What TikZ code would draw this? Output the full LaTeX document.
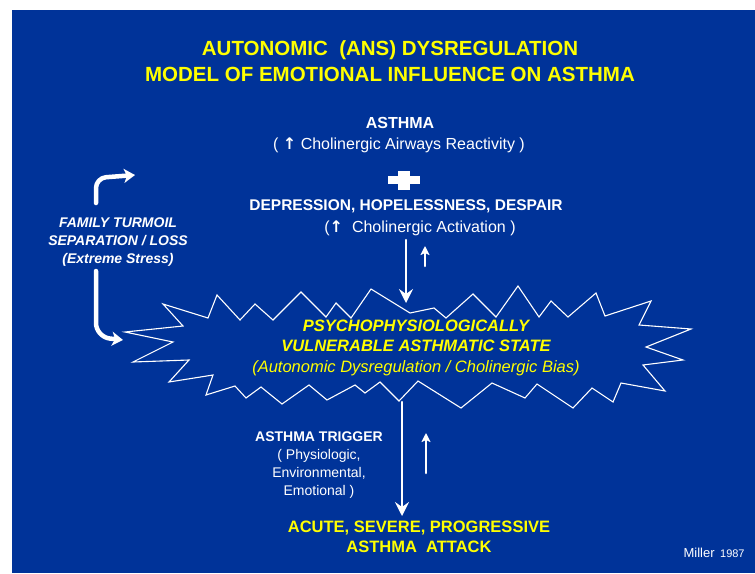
\documentclass[tikz,border=0pt]{standalone}
\usepackage{fontspec}
\setmainfont{Liberation Sans}
\newfontfamily\arrowfont{DejaVu Sans}
\usetikzlibrary{arrows.meta}

\definecolor{slideblue}{RGB}{0,51,153}
\definecolor{slideyellow}{RGB}{255,255,0}
\newcommand{\upsym}{{\arrowfont\bfseries ↑}}

\begin{document}
\begin{tikzpicture}[x=1pt, y=-1pt, line cap=round, line join=round,
    title/.style={text=slideyellow, font=\bfseries\fontsize{20.5}{26}\selectfont, align=center},
    heading/.style={text=white, font=\bfseries\fontsize{15.5}{19}\selectfont},
    note/.style={text=white, font=\fontsize{16}{19}\selectfont},
    sidetext/.style={text=white, font=\bfseries\itshape\fontsize{14}{18}\selectfont, align=center},
    statetext/.style={text=slideyellow, font=\bfseries\itshape\fontsize{16.5}{20.5}\selectfont, align=center},
    trigger/.style={text=white, font=\fontsize{14}{18}\selectfont, align=center},
    bigarrow/.style={white, line width=2.5pt, -{Stealth[length=14pt, width=14pt, inset=5pt]}},
    smallarrow/.style={white, line width=2.5pt, -{Stealth[length=9pt, width=9pt, inset=2pt]}},
    fatarrow/.style={white, line width=4.5pt, rounded corners=10pt, -{Stealth[length=11pt, width=14pt, inset=3pt]}},
    burst/.style={white, line width=1.1pt, line join=miter}]

    \useasboundingbox (0,0) rectangle (755,573);
    \fill[slideblue] (12,10) rectangle (755,573);

    % Title (base = last line)
    \node[title, anchor=base] (title) at (390,81) {AUTONOMIC\ \ (ANS) DYSREGULATION\\MODEL OF EMOTIONAL INFLUENCE ON ASTHMA};

    % Upper block
    \node[heading, anchor=base, font=\bfseries\fontsize{16}{19}\selectfont] (asthma) at (400,128) {ASTHMA};
    \node[note, anchor=base] (asthmanote) at (399,149) {( \upsym\ Cholinergic Airways Reactivity )};
    \fill[white] (388,175.5) rectangle (420,184);
    \fill[white] (398,170.5) rectangle (410,189.5);
    \node[heading, anchor=base] (depression) at (406,210.5) {DEPRESSION, HOPELESSNESS, DESPAIR};
    \node[note, anchor=base] (depnote) at (420,232) {(\upsym\ \ Cholinergic Activation )};

    % Left side
    \node[sidetext, anchor=base] (family) at (118,263) {FAMILY TURMOIL\\SEPARATION / LOSS\\(Extreme Stress)};

    % Vulnerable state
    \draw[burst] (125,332) -- (183,326) -- (163,304) -- (208,318) -- (217,295) -- (240,320)
        -- (255,304) -- (273,320) -- (301,292) -- (326,317) -- (336,303) -- (351,318)
        -- (371,289) -- (410,313) -- (434,308) -- (446,318) -- (473,294) -- (496,317)
        -- (518,286) -- (539,317) -- (551,301) -- (568,317) -- (596,293) -- (605,316)
        -- (651,301) -- (639,325) -- (691,329) -- (646,347) -- (683,360) -- (643,365)
        -- (665,391) -- (621,383) -- (613,402) -- (592,388) -- (573,408) -- (537,384)
        -- (525,398) -- (492,383) -- (461,408) -- (418,381) -- (399,401) -- (380,382)
        -- (365,393) -- (355,385) -- (327,400) -- (309,385) -- (282,404) -- (261,387)
        -- (246,398) -- (235,386) -- (206,395) -- (213,375) -- (169,382) -- (189,360)
        -- (133,362) -- (173,342) -- cycle;
    \node[statetext, anchor=base] (state) at (416,372) {PSYCHOPHYSIOLOGICALLY\\VULNERABLE ASTHMATIC STATE\\\mdseries (Autonomic Dysregulation / Cholinergic Bias)};

    % Lower block
    \node[trigger, anchor=base] (trigger) at (319,495) {\bfseries ASTHMA TRIGGER\\( Physiologic,\\Environmental,\\Emotional )};
    \node[title, anchor=base, font=\bfseries\fontsize{16.5}{20}\selectfont] (attack) at (419,552.5) {ACUTE, SEVERE, PROGRESSIVE\\ASTHMA\ \ ATTACK};
    \node[text=white, anchor=base west] (credit) at (680,557) {{\fontsize{13}{15}\selectfont Miller}\ \ {\fontsize{11}{13}\selectfont 1987}};

    % Arrows
    \coordinate (depOut) at (406,240);
    \coordinate (stateIn) at (406,303);
    \coordinate (stateOut) at (402,402);
    \coordinate (attackIn) at (402,516);
    \coordinate (upA1) at (425,266);
    \coordinate (upA2) at (425,246);
    \coordinate (upB1) at (426,473);
    \coordinate (upB2) at (426,433);
    \coordinate (famUp) at (96,203);
    \coordinate (famBend) at (96,178);
    \coordinate (famTip) at (135,175);
    \coordinate (famDown) at (96,271);
    \coordinate (stateBend) at (96,337);
    \coordinate (stateTip) at (123,340);

    \foreach \source/\target in {depOut/stateIn, stateOut/attackIn} {
            \draw[bigarrow] (\source) -- (\target);
        }
    \foreach \source/\target in {upA1/upA2, upB1/upB2} {
            \draw[smallarrow] (\source) -- (\target);
        }
    \draw[fatarrow] (famUp) -- (famBend) -- (famTip);
    \draw[fatarrow, rounded corners=14pt] (famDown) -- (stateBend) -- (stateTip);
\end{tikzpicture}
\end{document}
